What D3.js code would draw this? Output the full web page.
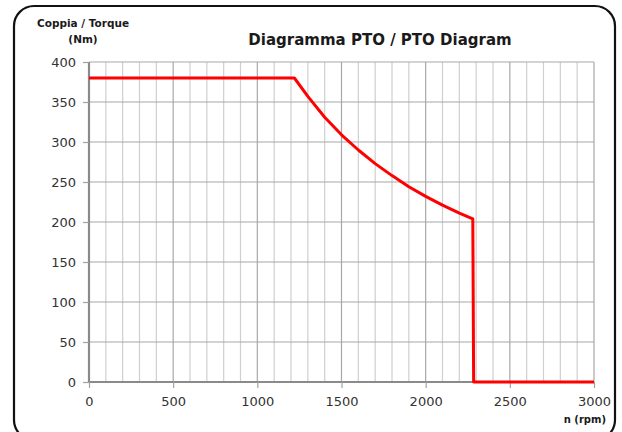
<!DOCTYPE html>
<html><head><meta charset="utf-8">
<script src="https://cdn.jsdelivr.net/npm/d3@7"></script>
<style>body{margin:0;background:#fff}svg{display:block}</style>
</head><body>
<svg id="c" width="622" height="432"></svg>
<script>
const title = "Diagramma PTO / PTO Diagram";
const yTitle = ["Coppia / Torque", "(Nm)"];
const xTitle = "n (rpm)";
const xTicks = [0, 500, 1000, 1500, 2000, 2500, 3000];
const yTicks = [0, 50, 100, 150, 200, 250, 300, 350, 400];
const rpm =    [0, 1220, 1300, 1400, 1500, 1600, 1700, 1800, 1900, 2000, 2100, 2200, 2280, 2285, 3000];
const torque = [380, 380, 357, 331, 309, 290, 273, 258, 244, 232, 221, 211, 204, 0, 0];

const svg = d3.select("#c");
const W = 622, H = 432;
const m = {l: 89, r: 28, t: 62, b: 50};
const x = d3.scaleLinear().domain([0, 3000]).range([m.l, W - m.r]);
const y = d3.scaleLinear().domain([0, 400]).range([H - m.b, m.t]);

// frame
svg.append("rect").attr("x", 14).attr("y", 6).attr("width", 601).attr("height", 434)
  .attr("rx", 20).attr("ry", 20).attr("fill", "none").attr("stroke", "#111").attr("stroke-width", 2.2);

const font = "'DejaVu Sans', sans-serif";

// minor vertical grid
const minor = d3.range(100, 3001, 100).filter(v => v % 500 !== 0);
svg.append("g").selectAll("line").data(minor).join("line")
  .attr("x1", d => x(d)).attr("x2", d => x(d)).attr("y1", y(400)).attr("y2", y(0))
  .attr("stroke", "#cfcfcf").attr("stroke-width", 1.2);
// major vertical grid
svg.append("g").selectAll("line").data(xTicks.filter(v => v > 0)).join("line")
  .attr("x1", d => x(d)).attr("x2", d => x(d)).attr("y1", y(400)).attr("y2", y(0))
  .attr("stroke", "#a8a8a8").attr("stroke-width", 1.2);
// horizontal grid
svg.append("g").selectAll("line").data(yTicks.filter(v => v > 0)).join("line")
  .attr("x1", x(0)).attr("x2", x(3000)).attr("y1", d => y(d)).attr("y2", d => y(d))
  .attr("stroke", "#a8a8a8").attr("stroke-width", 1.2);

// axes
const fmt = d3.format("d");
const yAxis = svg.append("g").attr("transform", `translate(${x(0)},0)`)
  .call(d3.axisLeft(y).tickValues(yTicks).tickFormat(fmt).tickSize(6).tickPadding(7));
const xAxis = svg.append("g").attr("transform", `translate(0,${y(0)})`)
  .call(d3.axisBottom(x).tickValues(xTicks).tickFormat(fmt).tickSize(6).tickPadding(6));
[xAxis, yAxis].forEach(a => {
  a.select(".domain").attr("stroke", "#8a8a8a").attr("stroke-width", 2.2);
  a.selectAll(".tick line").attr("stroke", "#a0a0a0").attr("stroke-width", 1.2);
  a.selectAll(".tick text").attr("fill", "#333").style("font-family", font).style("font-size", "13px");
});
yAxis.select(".domain").attr("d", `M0,${y(400)}V${y(0)}`);
xAxis.select(".domain").attr("d", `M${x(0)},0H${x(3000)}`);
xAxis.selectAll(".tick text").attr("dy", "0.9em");

// curve
const pts = rpm.map((r, i) => [r, torque[i]]);
svg.append("path").datum(pts)
  .attr("d", d3.line().x(d => x(d[0])).y(d => y(d[1])))
  .attr("fill", "none").attr("stroke", "#ff0000").attr("stroke-width", 3).attr("stroke-linejoin", "round");

// texts
svg.append("text").attr("x", 380).attr("y", 45).attr("text-anchor", "middle")
  .style("font-family", font).style("font-weight", "bold").style("font-size", "15px").attr("fill", "#1a1a1a").text(title);
svg.append("text").attr("x", 83).attr("y", 27).attr("text-anchor", "middle")
  .style("font-family", font).style("font-weight", "bold").style("font-size", "10.5px").attr("fill", "#1a1a1a").text(yTitle[0]);
svg.append("text").attr("x", 83).attr("y", 43).attr("text-anchor", "middle")
  .style("font-family", font).style("font-weight", "bold").style("font-size", "10.5px").attr("fill", "#1a1a1a").text(yTitle[1]);
svg.append("text").attr("x", 606).attr("y", 423).attr("text-anchor", "end")
  .style("font-family", font).style("font-weight", "bold").style("font-size", "10px").attr("fill", "#1a1a1a").text(xTitle);
</script>
</body></html>
